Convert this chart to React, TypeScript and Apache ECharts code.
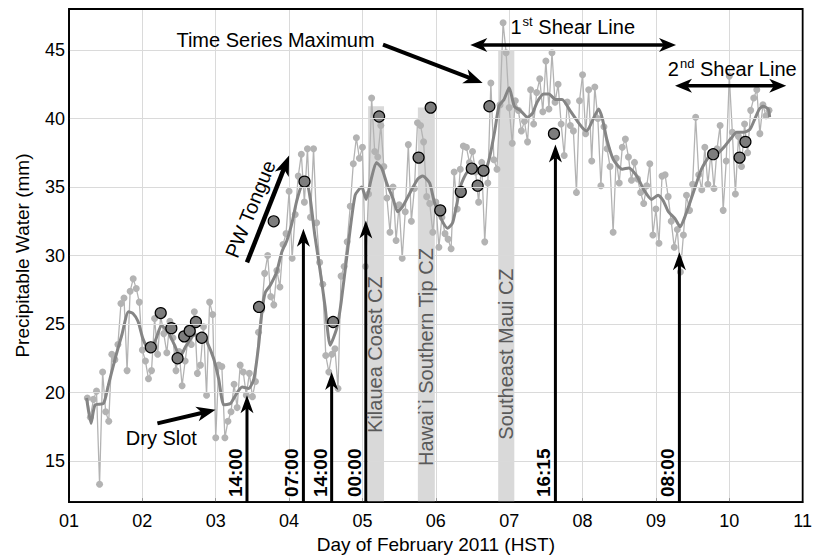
import React, { useEffect, useRef } from "react";
import * as echarts from "echarts";

const FONT = "'Liberation Sans', Arial, Helvetica, sans-serif";

// ---------- data ----------
const xTickDays = [1, 2, 3, 4, 5, 6, 7, 8, 9, 10, 11];
const yTicks = [15, 20, 25, 30, 35, 40, 45];

// raw hourly precipitable water (mm), starting day 1.25, step 1 hour
const rawStartDay = 1.25;
const rawStepDays = 1 / 24;
const rawValues = [
  19.6, 18.2, 19.5, 20.1, 13.3, 21.5, 18.6, 17.9, 22.8, 22.4, 23.5, 26.5, 26.9, 21.6, 27.4, 28.3, 27.6, 26.6, 23.1, 22.3, 21.0, 21.6, 25.4, 22.8,
  25.6, 24.3, 22.9, 25.2, 24.0, 21.6, 23.0, 20.5, 22.3, 24.0, 23.5, 25.9, 21.4, 22.0, 24.8, 19.8, 26.6, 25.7, 16.7, 22.0, 21.9, 16.7, 17.9, 18.6,
  20.6, 18.9, 22.0, 21.5, 19.8, 21.4, 19.7, 20.8, 24.4, 26.0, 28.7, 30.0, 27.0, 26.4, 28.9, 27.7, 30.8, 31.6, 34.7, 29.8, 33.0, 35.8, 37.4, 33.9,
  37.8, 32.8, 37.8, 32.4, 29.5, 27.9, 22.7, 21.5, 22.8, 23.2, 20.3, 28.5, 29.2, 31.0, 33.6, 36.7, 38.6, 37.1, 37.9, 29.2, 34.5, 41.5, 37.6, 37.2,
  39.5, 36.5, 34.2, 31.7, 35.0, 31.1, 33.7, 29.8, 33.2, 38.1, 32.5, 34.9, 39.7, 39.5, 38.3, 34.3, 33.8, 31.7, 33.9, 30.6, 32.8, 31.6, 31.2, 30.5,
  36.1, 33.4, 36.3, 38.0, 37.9, 36.8, 37.6, 36.1, 33.9, 36.8, 31.0, 35.3, 42.6, 37.0, 36.3, 41.0, 47.0, 44.8, 40.8, 38.2, 41.3, 40.6, 39.1, 39.8,
  38.3, 42.1, 39.6, 41.9, 42.9, 40.5, 44.2, 40.7, 44.8, 41.2, 42.5, 39.6, 37.3, 41.2, 39.5, 39.1, 34.6, 41.3, 43.2, 38.9, 42.1, 36.9, 42.3, 40.0,
  35.1, 39.4, 37.8, 36.5, 31.7, 37.1, 35.3, 37.9, 38.5, 37.2, 35.5, 36.8, 35.6, 34.6, 33.8, 35.1, 36.7, 31.5, 33.4, 30.9, 35.8, 35.9, 34.3, 32.5,
  30.6, 31.9, 28.8, 31.5, 34.4, 33.3, 35.2, 40.1, 35.9, 34.8, 37.9, 35.2, 37.5, 34.9, 37.8, 39.5, 33.3, 36.9, 43.1, 39.0, 34.5, 38.7, 36.5, 39.6,
  37.5, 40.6, 41.5, 42.1, 38.9, 41.0, 40.2, 40.6,
];

// smoothed series [day, mm]
const smoothed: [number, number][] = [
  [1.24, 19.6], [1.3, 17.75], [1.355, 19.1], [1.47, 19.2], [1.535, 20.5], [1.63, 22.5], [1.72, 24.2], [1.81, 25.9],
  [1.875, 25.75], [1.94, 25.2], [2.01, 23.9], [2.08, 23.2], [2.17, 23.7], [2.26, 24.9], [2.35, 24.4], [2.44, 23.45],
  [2.51, 22.6], [2.6, 23.45], [2.71, 24.2], [2.82, 24.2], [2.88, 23.7], [2.97, 22.5], [3.04, 21.0], [3.11, 19.1],
  [3.2, 19.2], [3.27, 19.8], [3.36, 20.4], [3.45, 20.3], [3.52, 21.0], [3.585, 23.45], [3.63, 25.9], [3.675, 27.3],
  [3.74, 27.8], [3.83, 28.8], [3.9, 30.25], [3.97, 31.1], [4.04, 32.4], [4.1, 33.9], [4.17, 35.1], [4.24, 35.3],
  [4.29, 34.1], [4.35, 31.5], [4.42, 29.0], [4.49, 26.3], [4.56, 23.45], [4.65, 24.7], [4.71, 26.6], [4.8, 30.5],
  [4.9, 34.4], [4.99, 35.0], [5.05, 34.1], [5.12, 35.6], [5.19, 36.8], [5.26, 36.4], [5.33, 35.3], [5.42, 34.1],
  [5.48, 33.2], [5.55, 33.6], [5.64, 34.5], [5.755, 35.6], [5.82, 35.8], [5.915, 35.3], [5.98, 33.9], [6.07, 32.7],
  [6.16, 32.0], [6.23, 32.4], [6.34, 35.1], [6.43, 36.1], [6.57, 36.3], [6.7, 36.55], [6.8, 39.0], [6.86, 40.9],
  [6.93, 41.4], [7.0, 42.25], [7.07, 40.9], [7.16, 40.55], [7.25, 40.1], [7.32, 40.4], [7.38, 41.2], [7.47, 41.8],
  [7.54, 41.8], [7.63, 41.4], [7.72, 41.4], [7.84, 40.5], [7.93, 39.8], [8.02, 39.2], [8.06, 39.1], [8.13, 39.8],
  [8.22, 40.7], [8.27, 40.0], [8.33, 38.5], [8.42, 37.0], [8.54, 36.3], [8.63, 36.4], [8.74, 35.8], [8.83, 34.85],
  [8.94, 34.1], [9.03, 34.4], [9.1, 34.0], [9.17, 33.2], [9.26, 32.7], [9.33, 32.1], [9.4, 32.9], [9.51, 34.6],
  [9.62, 36.3], [9.735, 37.3], [9.85, 37.5], [9.94, 38.0], [10.03, 38.6], [10.1, 39.0], [10.19, 39.0], [10.28, 39.2],
  [10.35, 40.0], [10.41, 40.7], [10.46, 40.9], [10.53, 40.7], [10.55, 40.1],
];

// highlighted observations [day, mm]
const highlighted: [number, number][] = [
  [2.115, 23.3], [2.25, 25.8], [2.395, 24.7], [2.48, 22.5], [2.57, 24.1], [2.645, 24.5], [2.73, 25.15], [2.81, 24.0],
  [3.59, 26.25], [3.79, 32.5], [4.21, 35.4], [4.6, 25.15], [5.227, 40.15], [5.765, 37.15], [5.93, 40.8], [6.06, 33.3],
  [6.34, 34.65], [6.49, 36.35], [6.57, 35.1], [6.65, 36.2], [6.73, 40.9], [7.61, 38.9], [9.78, 37.4], [10.14, 37.15],
  [10.22, 38.3],
];

// convergence-zone shaded periods
const czNames = ["Kilauea Coast CZ", "Hawai`i Southern Tip CZ", "Southeast Maui CZ"];
const czStart = [5.077, 5.755, 6.85];
const czEnd = [5.294, 5.986, 7.07];
const czTop = [40.9, 40.8, 45.0];

// time markers: label, day, arrow tip value
const markerLabels = ["14:00", "07:00", "14:00", "00:00", "16:15", "08:00"];
const markerDays = [3.426, 4.195, 4.58, 5.046, 7.63, 9.32];
const markerTips = [19.8, 31.95, 21.5, 32.55, 38.1, 30.25];

// ---------- chart ----------
const X_MIN = xTickDays[0];
const X_MAX = xTickDays[xTickDays.length - 1];
const Y_MIN = 12;
const Y_MAX = 48;

const rawData = rawValues.map((v, i) => [rawStartDay + i * rawStepDays, v]);

const option: any = {
  animation: false,
  backgroundColor: "#ffffff",
  grid: { left: 69, right: 9, top: 9, bottom: 55, show: false },
  xAxis: {
    type: "value",
    min: X_MIN,
    max: X_MAX,
    interval: 1,
    name: "Day of February 2011 (HST)",
    nameLocation: "middle",
    nameGap: 32,
    nameTextStyle: { fontSize: 19, color: "#000", fontFamily: FONT },
    axisLine: { show: true, onZero: false, lineStyle: { color: "#000", width: 1.5 } },
    axisTick: { show: true, inside: true, length: 4, lineStyle: { color: "#999" } },
    axisLabel: { fontSize: 18, color: "#000", fontFamily: FONT, margin: 10, formatter: (v: number) => (v < 10 ? "0" + v : String(v)) },
    splitLine: { show: true, lineStyle: { color: "#dadada", width: 1 } },
  },
  yAxis: {
    type: "value",
    min: Y_MIN,
    max: Y_MAX,
    name: "Precipitable Water (mm)",
    nameLocation: "middle",
    nameGap: 37,
    nameTextStyle: { fontSize: 19, color: "#000", fontFamily: FONT },
    axisLine: { show: true, onZero: false, lineStyle: { color: "#000", width: 1.5 } },
    axisTick: { show: true, inside: true, length: 4, customValues: yTicks, lineStyle: { color: "#999" } },
    axisLabel: { fontSize: 18, color: "#000", fontFamily: FONT, margin: 4, customValues: yTicks },
    splitLine: { show: false },
  },
  series: [
    {
      type: "line",
      name: "ygrid",
      z: 1,
      silent: true,
      data: [],
      symbol: "none",
      markLine: {
        silent: true,
        symbol: ["none", "none"],
        label: { show: false },
        lineStyle: { color: "#dadada", type: "solid", width: 1 },
        data: yTicks.map((v) => ({ yAxis: v })),
      },
    },
    {
      type: "line",
      name: "cz",
      z: 1.5,
      silent: true,
      data: [],
      symbol: "none",
      markArea: {
        silent: true,
        itemStyle: { color: "#d9d9d9" },
        label: { show: false },
        data: czNames.map((_, i) => [
          { xAxis: czStart[i], yAxis: Y_MIN },
          { xAxis: czEnd[i], yAxis: czTop[i] },
        ]),
      },
    },
    {
      type: "line",
      name: "raw",
      z: 2,
      data: rawData,
      symbol: "circle",
      symbolSize: 7,
      showSymbol: true,
      itemStyle: { color: "#b3b3b3" },
      lineStyle: { color: "#b3b3b3", width: 1.3 },
    },
    {
      type: "line",
      name: "smooth",
      z: 3,
      data: smoothed,
      symbol: "none",
      smooth: 0.2,
      lineStyle: { color: "#858585", width: 3 },
    },
    {
      type: "scatter",
      name: "highlight",
      z: 4,
      data: highlighted,
      symbol: "circle",
      symbolSize: 11,
      itemStyle: { color: "#7d7d7d", borderColor: "#000", borderWidth: 1.2, opacity: 1 },
    },
  ],
};

type P = number[];

function arrow(p1: P, p2: P, lw: number, headLen: number, headW: number, both = false): any[] {
  const dx = p2[0] - p1[0];
  const dy = p2[1] - p1[1];
  const L = Math.hypot(dx, dy);
  const ux = dx / L;
  const uy = dy / L;
  const head = (tip: P, ax: number, ay: number) => {
    const nx = -ay;
    const ny = ax;
    const bx = tip[0] - ax * headLen;
    const by = tip[1] - ay * headLen;
    const kx = tip[0] - ax * headLen * 0.72;
    const ky = tip[1] - ay * headLen * 0.72;
    return {
      type: "polygon",
      shape: { points: [tip, [bx + (nx * headW) / 2, by + (ny * headW) / 2], [kx, ky], [bx - (nx * headW) / 2, by - (ny * headW) / 2]] },
      style: { fill: "#000" },
      z: 100,
    };
  };
  const s = both ? [p1[0] + ux * headLen * 0.7, p1[1] + uy * headLen * 0.7] : p1;
  const e = [p2[0] - ux * headLen * 0.7, p2[1] - uy * headLen * 0.7];
  const out: any[] = [
    { type: "line", shape: { x1: s[0], y1: s[1], x2: e[0], y2: e[1] }, style: { stroke: "#000", lineWidth: lw }, z: 100 },
    head(p2, ux, uy),
  ];
  if (both) out.push(head(p1, -ux, -uy));
  return out;
}

function buildGraphics(px: (d: number, v: number) => P): any[] {
  const g: any[] = [];
  // plot frame
  const tl = px(X_MIN, Y_MAX);
  const br = px(X_MAX, Y_MIN);
  g.push({
    type: "rect",
    shape: { x: tl[0], y: tl[1], width: br[0] - tl[0], height: br[1] - tl[1] },
    style: { fill: "none", stroke: "#000", lineWidth: 1.8 },
    silent: true,
    z: 99,
  });
  // time marker arrows and labels
  markerDays.forEach((d, i) => {
    const base = px(d, Y_MIN);
    const tip = px(d, markerTips[i]);
    g.push(...arrow(base, tip, 3, 18, 13));
    g.push({
      type: "text",
      x: base[0] - 2,
      y: base[1] - 5,
      rotation: Math.PI / 2,
      z: 101,
      style: { text: markerLabels[i], fill: "#000", fontSize: 19, fontWeight: "bold", fontFamily: FONT, align: "left", verticalAlign: "bottom" },
    });
  });
  // CZ labels
  const czLabelDay = [5.172, 5.871, 6.963];
  const czLabelVal = [22.77, 22.59, 22.81];
  czNames.forEach((n, i) => {
    const c = px(czLabelDay[i], czLabelVal[i]);
    g.push({
      type: "text",
      x: c[0],
      y: c[1],
      rotation: Math.PI / 2,
      z: 101,
      style: { text: n, fill: "#5a5a5a", fontSize: 20, fontFamily: FONT, align: "center", verticalAlign: "middle" },
    });
  });
  // Time series maximum
  const tsm = px(3.815, 45.77);
  g.push({ type: "text", x: tsm[0], y: tsm[1], z: 101, style: { text: "Time Series Maximum", fill: "#000", fontSize: 20, fontFamily: FONT, align: "center", verticalAlign: "middle" } });
  g.push(...arrow(px(5.28, 45.4), px(6.638, 42.6), 4, 19, 15));
  // 1st shear line
  g.push(...arrow(px(6.47, 45.38), px(9.274, 45.38), 3.5, 17, 14, true));
  const s1 = px(7.018, 46.68);
  g.push({
    type: "text", x: s1[0], y: s1[1], z: 101,
    style: {
      text: "{n|1}{s|st}{n| Shear Line}", align: "left", verticalAlign: "middle",
      rich: {
        n: { fontSize: 20, fontFamily: FONT, fill: "#000", color: "#000", lineHeight: 24 },
        s: { fontSize: 13, fontFamily: FONT, fill: "#000", color: "#000", verticalAlign: "top", padding: [0, 0, 0, 1] },
      },
    },
  });
  // 2nd shear line
  g.push(...arrow(px(9.26, 42.4), px(10.776, 42.4), 3.5, 17, 14, true));
  const s2 = px(9.162, 43.62);
  g.push({
    type: "text", x: s2[0], y: s2[1], z: 101,
    style: {
      text: "{n|2}{s|nd}{n| Shear Line}", align: "left", verticalAlign: "middle",
      rich: {
        n: { fontSize: 20, fontFamily: FONT, fill: "#000", color: "#000", lineHeight: 24 },
        s: { fontSize: 13, fontFamily: FONT, fill: "#000", color: "#000", verticalAlign: "top", padding: [0, 0, 0, 1] },
      },
    },
  });
  // PW tongue
  g.push(...arrow(px(3.426, 29.5), px(4.0, 37.3), 4.5, 20, 15));
  const pw = px(3.472, 33.4);
  g.push({ type: "text", x: pw[0], y: pw[1], rotation: (68 * Math.PI) / 180, z: 101, style: { text: "PW Tongue", fill: "#000", fontSize: 20, fontFamily: FONT, align: "center", verticalAlign: "middle" } });
  // Dry slot
  g.push(...arrow(px(2.205, 17.75), px(2.997, 18.75), 4, 19, 15));
  const ds = px(2.259, 16.71);
  g.push({ type: "text", x: ds[0], y: ds[1], z: 101, style: { text: "Dry Slot", fill: "#000", fontSize: 20, fontFamily: FONT, align: "center", verticalAlign: "middle" } });
  return g;
}

export default function App() {
  const ref = useRef<HTMLDivElement>(null);
  useEffect(() => {
    if (!ref.current) return;
    const chart = echarts.init(ref.current, null, { renderer: "svg" });
    chart.setOption(option);
    const px = (d: number, v: number) => chart.convertToPixel({ gridIndex: 0 }, [d, v]) as number[];
    chart.setOption({ graphic: buildGraphics(px) });
    return () => chart.dispose();
  }, []);
  return <div ref={ref} style={{ position: "fixed", left: 0, top: 0, width: 815, height: 559, background: "#fff" }} />;
}
